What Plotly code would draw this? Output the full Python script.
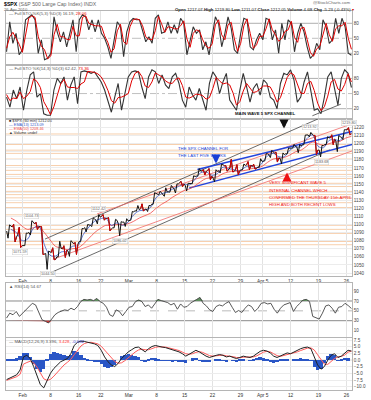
import numpy as np
import plotly.graph_objects as go

# ---------------- data ----------------
dates = ["2010-01-27", "2010-01-28", "2010-01-29",
         "2010-02-01", "2010-02-02", "2010-02-03", "2010-02-04", "2010-02-05",
         "2010-02-08", "2010-02-09", "2010-02-10", "2010-02-11", "2010-02-12",
         "2010-02-16", "2010-02-17", "2010-02-18", "2010-02-19",
         "2010-02-22", "2010-02-23", "2010-02-24", "2010-02-25", "2010-02-26",
         "2010-03-01", "2010-03-02", "2010-03-03", "2010-03-04", "2010-03-05",
         "2010-03-08", "2010-03-09", "2010-03-10", "2010-03-11", "2010-03-12",
         "2010-03-15", "2010-03-16", "2010-03-17", "2010-03-18", "2010-03-19",
         "2010-03-22", "2010-03-23", "2010-03-24", "2010-03-25", "2010-03-26",
         "2010-03-29", "2010-03-30", "2010-03-31", "2010-04-01",
         "2010-04-05", "2010-04-06", "2010-04-07", "2010-04-08", "2010-04-09",
         "2010-04-12", "2010-04-13", "2010-04-14", "2010-04-15", "2010-04-16",
         "2010-04-19", "2010-04-20", "2010-04-21", "2010-04-22", "2010-04-23",
         "2010-04-26"]
tick_dates = ["2010-02-01", "2010-02-08", "2010-02-16", "2010-02-22", "2010-03-01",
              "2010-03-08", "2010-03-15", "2010-03-22", "2010-03-29", "2010-04-05",
              "2010-04-12", "2010-04-19", "2010-04-26"]
tick_text = ["Feb", "8", "16", "22", "Mar", "8", "15", "22", "29", "Apr 5", "12", "19", "26"]

opens = [1091.9, 1096.9, 1087.6,
         1073.9, 1090.1, 1100.7, 1097.3, 1064.1,
         1065.5, 1060.1, 1069.7, 1067.1, 1075.9,
         1079.1, 1096.1, 1099.0, 1105.5,
         1110.0, 1107.5, 1095.9, 1101.2, 1103.1,
         1105.4, 1117.0, 1119.4, 1119.1, 1125.1,
         1138.4, 1137.6, 1140.2, 1144.0, 1151.7,
         1148.5, 1150.8, 1159.9, 1166.1, 1166.7,
         1157.3, 1166.5, 1172.7, 1170.0, 1167.6,
         1167.7, 1173.8, 1171.8, 1171.2,
         1178.7, 1186.0, 1188.2, 1181.8, 1187.5,
         1194.9, 1195.9, 1198.7, 1210.8, 1210.2,
         1192.1, 1199.0, 1207.2, 1202.5, 1207.9,
         1217.1]
highs = [1099.5, 1100.2, 1096.5,
         1089.4, 1104.7, 1102.7, 1097.3, 1067.1,
         1071.2, 1079.3, 1073.7, 1080.0, 1077.8,
         1095.0, 1100.0, 1108.2, 1112.4,
         1112.3, 1108.6, 1106.4, 1103.5, 1107.2,
         1116.1, 1123.5, 1125.6, 1123.7, 1139.4,
         1141.1, 1145.4, 1148.3, 1150.2, 1153.4,
         1151.0, 1160.3, 1169.2, 1167.8, 1169.2,
         1167.8, 1174.7, 1173.0, 1180.7, 1173.9,
         1174.9, 1177.8, 1174.6, 1181.4,
         1187.7, 1191.8, 1189.6, 1188.6, 1194.7,
         1199.2, 1199.0, 1210.7, 1213.9, 1210.2,
         1197.9, 1208.6, 1211.0, 1210.3, 1217.3,
         1219.8]
lows = [1083.1, 1078.5, 1071.6,
        1073.9, 1087.0, 1093.9, 1062.8, 1044.5,
        1056.5, 1060.1, 1059.3, 1060.6, 1063.0,
        1079.1, 1091.0, 1097.5, 1100.8,
        1105.4, 1092.2, 1095.9, 1086.0, 1097.6,
        1105.4, 1116.5, 1116.6, 1116.1, 1125.1,
        1136.8, 1134.9, 1140.1, 1139.0, 1147.0,
        1141.5, 1150.4, 1159.9, 1161.5, 1155.3,
        1152.9, 1163.8, 1166.0, 1165.1, 1161.5,
        1167.7, 1168.0, 1168.6, 1170.7,
        1178.7, 1182.8, 1177.3, 1175.1, 1187.2,
        1194.7, 1188.8, 1198.7, 1208.5, 1186.8,
        1183.7, 1199.0, 1198.9, 1190.2, 1205.1,
        1211.1]
closes = [1097.5, 1084.5, 1073.9,
          1089.2, 1103.3, 1097.3, 1063.1, 1066.2,
          1056.7, 1070.5, 1068.1, 1078.5, 1075.5,
          1094.9, 1099.5, 1106.8, 1109.2,
          1108.0, 1094.6, 1105.2, 1102.9, 1104.5,
          1115.7, 1118.3, 1118.8, 1123.0, 1138.7,
          1138.5, 1140.4, 1145.6, 1150.2, 1150.0,
          1150.5, 1159.5, 1166.2, 1165.8, 1159.9,
          1165.8, 1174.2, 1167.7, 1165.7, 1166.6,
          1173.2, 1173.3, 1169.4, 1178.1,
          1187.4, 1189.4, 1182.4, 1186.4, 1194.4,
          1196.5, 1197.3, 1210.7, 1211.7, 1192.1,
          1197.5, 1207.2, 1205.9, 1208.7, 1217.3,
          1212.1]
ema13 = [1094, 1090, 1080,
         1082, 1095, 1098, 1075, 1062,
         1061, 1066, 1067, 1073, 1074,
         1088, 1097, 1104, 1107,
         1108, 1099, 1102, 1099, 1103,
         1112, 1117, 1118, 1121, 1133,
         1138, 1140, 1144, 1147, 1150,
         1149, 1156, 1164, 1165, 1161,
         1163, 1171, 1169, 1168, 1166,
         1171, 1173, 1170, 1176,
         1185, 1188, 1184, 1184, 1192,
         1196, 1196, 1206, 1211, 1197,
         1195, 1204, 1205, 1204, 1214,
         1213]
ema50 = [1108, 1104, 1098,
         1094, 1096, 1097, 1090, 1081,
         1073, 1071, 1069, 1070, 1071,
         1076, 1083, 1090, 1095,
         1099, 1099, 1100, 1100, 1101,
         1104, 1108, 1111, 1114, 1120,
         1125, 1129, 1134, 1138, 1142,
         1144, 1148, 1153, 1157, 1158,
         1159, 1163, 1165, 1166, 1166,
         1167, 1169, 1170, 1172,
         1177, 1181, 1182, 1183, 1186,
         1190, 1192, 1197, 1202, 1200,
         1198, 1200, 1202, 1203, 1207,
         1209]

sto5_k = [23, 83, 40, 60, 17, 27, 87, 93, 97, 87,
          20, 47, 7, 10, 20, 93, 63, 43, 63, 33,
          60, 87, 23, 87, 97, 93, 67, 87, 63, 87,
          60, 50, 33, 10, 47, 83, 73, 13, 63, 83,
          90, 87, 87, 63, 43, 53, 40, 90, 97, 60,
          63, 83, 60, 77, 60, 90, 80, 17, 47, 73,
          60, 67, 27, 43, 17, 60, 93, 80, 33, 60,
          93, 70, 27, 20, 60, 90, 87, 33, 27, 47,
          60, 47, 90, 87, 47, 67, 20, 80, 47, 87,
          80, 23, 60, 80, 63, 33, 10, 17, 40, 27,
          87, 73, 40, 47, 90, 60, 90, 73, 20, 16]
sto5_d = [30, 53, 62, 50, 38, 22, 57, 90, 95, 92,
          54, 34, 27, 9, 15, 57, 78, 53, 53, 48,
          47, 74, 55, 55, 92, 95, 80, 77, 75, 75,
          74, 55, 42, 22, 29, 65, 78, 43, 38, 73,
          87, 89, 87, 75, 53, 48, 47, 65, 94, 79,
          62, 73, 72, 69, 69, 75, 85, 49, 32, 60,
          67, 64, 47, 35, 30, 39, 77, 87, 57, 47,
          77, 82, 49, 24, 40, 75, 89, 60, 30, 37,
          54, 54, 69, 89, 67, 57, 44, 50, 64, 67,
          84, 52, 42, 70, 72, 48, 22, 14, 29, 34,
          57, 80, 57, 44, 69, 75, 75, 82, 50, 28]
sto14_k = [43, 23, 57, 40, 63, 17, 57, 87, 93, 43,
           50, 10, 7, 7, 57, 80, 70, 83, 37, 67,
           83, 30, 93, 95, 93, 90, 93, 83, 73, 57,
           37, 13, 43, 70, 17, 50, 83, 93, 95, 93,
           63, 40, 83, 97, 93, 70, 87, 67, 60, 83,
           90, 70, 37, 23, 63, 47, 37, 60, 40, 17,
           70, 93, 83, 50, 73, 90, 37, 27, 17, 57,
           90, 63, 33, 60, 70, 47, 77, 70, 43, 37,
           20, 70, 90, 87, 97, 77, 33, 43, 73, 93,
           57, 17, 20, 10, 43, 83, 93, 57, 27, 80,
           97, 90, 62]
sto14_d = [48, 36, 41, 40, 53, 40, 45, 54, 79, 74,
           62, 34, 22, 8, 24, 48, 69, 78, 63, 62,
           62, 60, 69, 73, 94, 93, 92, 89, 83, 71,
           56, 36, 31, 42, 43, 46, 50, 75, 90, 94,
           84, 65, 62, 73, 91, 87, 83, 75, 71, 70,
           78, 81, 66, 43, 41, 44, 49, 48, 46, 39,
           42, 60, 82, 75, 69, 71, 67, 51, 27, 34,
           55, 70, 62, 52, 54, 59, 65, 65, 63, 50,
           33, 42, 60, 82, 91, 87, 69, 51, 50, 70,
           74, 56, 31, 16, 24, 45, 73, 78, 59, 55,
           68, 89, 73]
rsi14 = [35.3, 45.3, 42, 48.7, 38.7, 45.3, 52, 58.7, 65.3, 62,
         48.7, 32, 28.7, 25.3, 33.3, 42, 46.7, 48.7, 52, 50.7,
         55.3, 52, 58.7, 68.7, 73.3, 72, 73.3, 70.7, 75.3, 68.7,
         65.3, 57.3, 42, 38.7, 52, 48.7, 40, 48.7, 57.3, 58.7,
         68.7, 72, 68.7, 58.7, 62, 55.3, 65.3, 73.3, 70.7, 68.7,
         66.7, 62, 65.3, 53.3, 64, 57.3, 58.7, 65.3, 68.7, 73.3,
         77.3, 65.3, 60, 52, 48.7, 58.7, 62, 60, 65.3, 68.7,
         57.3, 46.7, 50.7, 46.7, 55.3, 62, 58.7, 48.7, 55.3, 65.3,
         66.7, 64, 65.3, 53.3, 45.3, 55.3, 62, 64, 66.7, 48.7,
         58.7, 65.3, 72, 73.3, 68.7, 38.7, 35.3, 33.3, 45.3, 60,
         62, 55.3, 45.3, 57.3, 58.7, 65.3, 60.7, 54.7]
macd_line = [-7.3, -6.7, -6.1, -5.5, -3.7, 1.2, 1.8, 0.6, -2.4, -6.1,
             -9.2, -10.4, -7.3, -4.9, -3.1, -1.8, -0.6, 0, 0.6, 2.4,
             5.5, 6.7, 7.1, 7.0, 6.7, 6.5, 6.1, 5.5, 3.7, 1.2,
             -0.6, -1.8, -2.4, -1.2, 0.6, 1.8, 3.1, 3.9, 4.7, 4.9,
             3.9, 3.1, 4.3, 5.1, 5.5, 5.1, 4.9, 4.7, 4.3, 3.9,
             3.7, 3.1, 2.4, 1.5, 2.2, 3.1, 3.7, 3.1, 2.2, 1.5,
             1.0, 1.5, 1.8, 2.1, 1.8, 1.2, 1.5, 1.0, 0.6, 1.0,
             1.5, 1.2, 1.0, 1.5, 2.4, 3.3, 3.7, 3.4, 2.7, 1.5,
             1.0, 1.5, 2.2, 2.7, 2.4, 3.1, 3.7, 4.3, 4.7, 4.9,
             4.3, 1.2, -1.8, -3.4, -2.4, 0, 1.8, 2.4, 1.0, 1.5,
             2.7, 3.7, 3.4]
macd_signal = [-7.6, -7.2, -6.7, -6.2, -5.3, -1.5, -0.9, -0.4, -1.0, -2.6,
               -4.8, -7.0, -7.6, -7.2, -6.0, -4.5, -3.0, -1.8, -0.8, 0.3,
               2.0, 3.8, 5.3, 6.2, 6.6, 6.7, 6.5, 6.1, 5.2, 3.8,
               2.2, 0.7, -0.5, -1.2, -1.0, -0.2, 0.9, 2.0, 3.0, 3.8,
               4.1, 3.9, 3.9, 4.3, 4.8, 5.0, 5.0, 4.9, 4.6, 4.3,
               4.0, 3.6, 3.0, 2.4, 2.2, 2.4, 2.9, 3.2, 2.9, 2.3,
               1.7, 1.5, 1.6, 1.8, 1.9, 1.6, 1.5, 1.3, 1.0, 0.9,
               1.1, 1.2, 1.1, 1.2, 1.6, 2.3, 3.0, 3.3, 3.1, 2.4,
               1.7, 1.4, 1.7, 2.2, 2.4, 2.7, 3.1, 3.6, 4.1, 4.5,
               4.6, 3.8, 2.0, 0.0, -1.5, -1.6, -0.5, 0.6, 1.2, 1.4,
               1.9, 3.0, 3.4]

# support / resistance levels (orange lines)
levels = [1212, 1199, 1192, 1188, 1181, 1173, 1167, 1162, 1157, 1151, 1147,
          1141, 1137, 1133, 1127, 1121, 1112, 1099, 1094, 1089, 1079, 1075]

# labelled swing points: (label, date, side)
swing_labels = [("1104.73", "2010-02-02", 1), ("1071.59", "2010-01-29", -1),
                ("1044.50", "2010-02-05", -1), ("1112.42", "2010-02-19", 1),
                ("1086.02", "2010-02-25", -1), ("1213.92", "2010-04-15", 1),
                ("1183.68", "2010-04-19", -1), ("1219.80", "2010-04-26", 1)]

# hand drawn trend lines: (day0, value0, day1, value1, color, width)
price_trendlines = [
    (7.0, 1082.0, 57.5, 1235.5, "#444444", 0.8),
    (7.86, 1040.0, 58.0, 1192.4, "#444444", 0.8),
    (16.3, 1113.0, 63.0, 1227.0, "#f06a6a", 0.8),
    (8.4, 1057.0, 63.0, 1193.5, "#f06a6a", 0.8),
    (34.3, 1168.0, 62.5, 1216.0, "#2244dd", 1.5),
    (32.8, 1145.0, 62.5, 1200.0, "#2244dd", 1.5),
]
sto_trendline = (54.9, 6.0, 60.0, 29.0)

# ---------------- geometry ----------------
W, H = 371, 400
XD = [6 / W, 352 / W]


def pdom(top, bottom):
    return [1 - bottom / H, 1 - top / H]


D1 = pdom(11, 63.5)
D2 = pdom(66, 118.8)
D3 = pdom(118.8, 276)
D4 = pdom(283.3, 337)
D5 = pdom(338, 390)
XR = [0, 62]
ticks = [dates.index(d) for d in tick_dates]
FONT = "Liberation Sans, Arial, sans-serif"

fig = go.Figure()

# --- stochastic panels ---
n1 = len(sto5_k)
x1 = np.linspace(0.1, 61.9, n1)
fig.add_trace(go.Scatter(x=x1, y=sto5_k, mode="lines", line=dict(color="#333333", width=1.1),
                         xaxis="x", yaxis="y"))
fig.add_trace(go.Scatter(x=x1, y=sto5_d, mode="lines", line=dict(color="#e00000", width=1),
                         xaxis="x", yaxis="y"))
n2 = len(sto14_k)
x2 = np.linspace(0.1, 61.9, n2)
fig.add_trace(go.Scatter(x=x2, y=sto14_k, mode="lines", line=dict(color="#333333", width=1.1),
                         xaxis="x2", yaxis="y2"))
fig.add_trace(go.Scatter(x=x2, y=sto14_d, mode="lines", line=dict(color="#e00000", width=1),
                         xaxis="x2", yaxis="y2"))
fig.add_trace(go.Scatter(x=[sto_trendline[0], sto_trendline[2]], y=[sto_trendline[1], sto_trendline[3]],
                         mode="lines", line=dict(color="#444444", width=0.8), xaxis="x2", yaxis="y2"))

# --- price panel ---
for d0, v0, d1, v1, col, w in price_trendlines:
    fig.add_trace(go.Scatter(x=[d0, d1], y=[v0, v1], mode="lines", line=dict(color=col, width=w),
                             xaxis="x3", yaxis="y3"))
day_end = np.arange(len(dates)) + 0.88
fig.add_trace(go.Scatter(x=day_end, y=ema50, mode="lines", line=dict(color="#f04848", width=0.8, shape="spline"),
                         xaxis="x3", yaxis="y3"))
fig.add_trace(go.Scatter(x=day_end, y=ema13, mode="lines", line=dict(color="#3656c8", width=0.8, shape="spline"),
                         xaxis="x3", yaxis="y3"))
px_x, px_y, rx, ry = [], [], [], []
for i, (o, h, l, c) in enumerate(zip(opens, highs, lows, closes)):
    seq = [o, l, h, c] if c >= o else [o, h, l, c]
    xs = [i + 0.12, i + 0.37, i + 0.63, i + 0.88]
    px_x += xs
    px_y += seq
    if c < o:
        rx += xs + [None]
        ry += seq + [None]
fig.add_trace(go.Scatter(x=px_x, y=px_y, mode="lines", line=dict(color="#111111", width=1),
                         xaxis="x3", yaxis="y3"))
fig.add_trace(go.Scatter(x=rx, y=ry, mode="lines", line=dict(color="#dd0000", width=1),
                         xaxis="x3", yaxis="y3"))

# --- RSI ---
n4 = len(rsi14)
x4 = np.linspace(0.1, 61.9, n4)
r = np.array(rsi14)
fig.add_trace(go.Scatter(x=x4, y=np.full(n4, 70.0), mode="lines", line=dict(width=0), xaxis="x4", yaxis="y4"))
fig.add_trace(go.Scatter(x=x4, y=np.maximum(r, 70), mode="lines", line=dict(width=0), fill="tonexty",
                         fillcolor="#5f8f5f", xaxis="x4", yaxis="y4"))
fig.add_trace(go.Scatter(x=x4, y=np.full(n4, 30.0), mode="lines", line=dict(width=0), xaxis="x4", yaxis="y4"))
fig.add_trace(go.Scatter(x=x4, y=np.minimum(r, 30), mode="lines", line=dict(width=0), fill="tonexty",
                         fillcolor="#cc3333", xaxis="x4", yaxis="y4"))
fig.add_trace(go.Scatter(x=x4, y=rsi14, mode="lines", line=dict(color="#444444", width=0.9),
                         xaxis="x4", yaxis="y4"))

# --- MACD ---
n5 = len(macd_line)
x5 = np.linspace(0.1, 61.9, n5)
hist = np.array(macd_line) - np.array(macd_signal)
fig.add_trace(go.Bar(x=x5, y=hist, marker=dict(color="#2a56c6", line=dict(width=0)), width=0.62,
                     xaxis="x5", yaxis="y5"))
fig.add_trace(go.Scatter(x=x5, y=macd_signal, mode="lines", line=dict(color="#ff5a5a", width=1),
                         xaxis="x5", yaxis="y5"))
fig.add_trace(go.Scatter(x=x5, y=macd_line, mode="lines", line=dict(color="#222222", width=1),
                         xaxis="x5", yaxis="y5"))

# ---------------- shapes ----------------
shapes = []


def hline(ax, y, color, dash="solid", width=0.8):
    shapes.append(dict(type="line", xref=f"{ax} domain", x0=0, x1=1, yref=ax.replace("x", "y"), y0=y, y1=y,
                       line=dict(color=color, width=width, dash=dash), layer="below"))


for ax in ["x", "x2"]:
    hline(ax, 80, "#9a9a9a")
    hline(ax, 20, "#9a9a9a")
    hline(ax, 50, "#b0b0b0", "dashdot")
for lv in levels:
    hline("x3", lv, "#f6c9a4", width=0.9)
hline("x4", 70, "#8a8a8a", width=1)
hline("x4", 30, "#8a8a8a", width=1)
hline("x4", 50, "#aaaaaa", "dash")
hline("x5", 0, "#c8c8c8", width=0.8)

# ---------------- annotations ----------------
ann = []


def txt(x, y, s, size=4.5, color="#222222", xanchor="left", bold=False):
    if bold:
        s = f"<b>{s}</b>"
    ann.append(dict(x=x / W, y=1 - y / H, xref="paper", yref="paper", text=s, showarrow=False,
                    xanchor=xanchor, yanchor="middle", font=dict(size=size, color=color, family=FONT)))


txt(2, 3.5, "<b>$SPX</b> <span style='color:#666'>(S&P 500 Large Cap Index) INDX</span>", size=5.2, color="#000")
txt(352, 3.0, "@StockCharts.com", size=4.3, color="#666", xanchor="right")
txt(2, 9.2, "26-Apr-2010", size=4.2, color="#666")
txt(356, 9.2, "<b>Open</b> 1217.07 <b>High</b> 1219.80 <b>Low</b> 1211.07 <b>Close</b> 1212.05 "
              "<b>Volume</b> 4.6B <b>Chg</b> -5.23 (-0.43%) <span style='color:#c00'>▾</span>",
    size=4.3, color="#222", xanchor="right")
txt(7, 13.8, "<span style='color:#444'>—</span> Full STO %K(5,3) %D(3) 16.19, "
             "<span style='color:#e00'>28.06</span>", size=4.3, color="#555")
txt(7, 68.8, "<span style='color:#444'>—</span> Full STO %K(14,3) %D(3) 62.42, "
             "<span style='color:#e00'>73.36</span>", size=4.3, color="#555")
txt(7, 121.0, "■ $SPX (60 min) 1212.05", size=3.8, color="#333")
txt(7, 125.0, "<span style='color:#3656c8'>— EMA(13) 1213.09</span>", size=3.8)
txt(7, 129.0, "<span style='color:#f04848'>— EMA(50) 1208.46</span>", size=3.8)
txt(7, 133.0, "▲ Volume undef", size=3.8, color="#333")
txt(7, 286.5, "▲ RSI(14) 54.67", size=4.3, color="#555")
txt(7, 341.2, "— MACD(12,26,9) 3.396, <span style='color:#f33'>3.428</span>, "
              "<span style='color:#33c'>-0.032</span>", size=4.3, color="#555")

txt(265, 113.6, "MAIN WAVE 5 SPX CHANNEL", size=4.3, color="#111", xanchor="center", bold=True)
txt(176, 148.2, "THE SPX CHANNEL FOR", size=4.3, color="#1a3fd6")
txt(176, 155.3, "THE LAST FIVE WEEKS", size=4.3, color="#1a3fd6")
red_lines = ["VERY SIGNIFICANT WAVE 5", "INTERNAL CHANNEL WHICH",
             "CONFIRMED THE THURSDAY 15th APRIL", "HIGH AND BOTH RECENT LOWS"]
for k, s in enumerate(red_lines):
    txt(267, 182.7 + 7.3 * k, s, size=4.3, color="#ee1111")


def arrow(x, y, ay, color):
    ann.append(dict(x=x / W, y=1 - y / H, xref="paper", yref="paper", text="", showarrow=True,
                    ax=0, ay=ay, arrowhead=2, arrowsize=0.7, arrowwidth=2.6, arrowcolor=color))


arrow(284, 128.5, -7, "#111111")
arrow(216, 163.5, -7, "#1a3fd6")
arrow(287, 172.5, 7, "#ee1111")

for lab, d, side in swing_labels:
    ann.append(dict(x=dates.index(d) + 0.5, y=float(lab), xref="x3", yref="y3", text=lab, showarrow=False,
                    yshift=5 * side, font=dict(size=3.8, color="#666", family=FONT),
                    bgcolor="rgba(255,255,255,0.85)", bordercolor="#cccccc", borderwidth=0.5, borderpad=0.5))

# ---------------- layout ----------------
layout = dict(width=W, height=H, margin=dict(l=0, r=0, t=0, b=0), paper_bgcolor="white",
              plot_bgcolor="white", showlegend=False, shapes=shapes, annotations=ann, bargap=0,
              font=dict(family=FONT, size=5, color="#333"))
doms = [D1, D2, D3, D4, D5]
yranges = [[-0.4, 104.6], [0, 104.6], [1036.3, 1230.8], [-3.1, 105.9], [-11.2, 8.3]]
yticks = [[20, 50, 80], [20, 50, 80], list(range(1040, 1221, 10)), [10, 30, 50, 70, 90],
          [-10, -7.5, -5, -2.5, 0, 2.5, 5, 7.5]]
for i in range(5):
    s = "" if i == 0 else str(i + 1)
    layout["xaxis" + s] = dict(domain=XD, range=XR, anchor="y" + s, tickvals=ticks, ticktext=tick_text,
                               showticklabels=(i in (2, 4)), showgrid=True, gridcolor="#e2e2e2",
                               gridwidth=0.8, zeroline=False, showline=True, linecolor="#b5b5b5",
                               linewidth=0.8, mirror=True, ticks="", tickfont=dict(size=4.8, color="#333"))
    ya = dict(domain=doms[i], range=yranges[i], anchor="x" + s, side="right", tickvals=yticks[i],
              showgrid=(i in (2, 4)), gridcolor="#ececec", gridwidth=0.8, zeroline=False, showline=True,
              linecolor="#b5b5b5", linewidth=0.8, mirror=True, ticks="",
              tickfont=dict(size=4.6, color="#444"))
    if i == 4:
        ya["tickformat"] = ".1f"
    layout["yaxis" + s] = ya

fig.update_layout(**layout)
fig.write_html("out.html", config={"displayModeBar": False},
               post_script="document.body.style.margin='0px';document.body.style.overflow='hidden';")
